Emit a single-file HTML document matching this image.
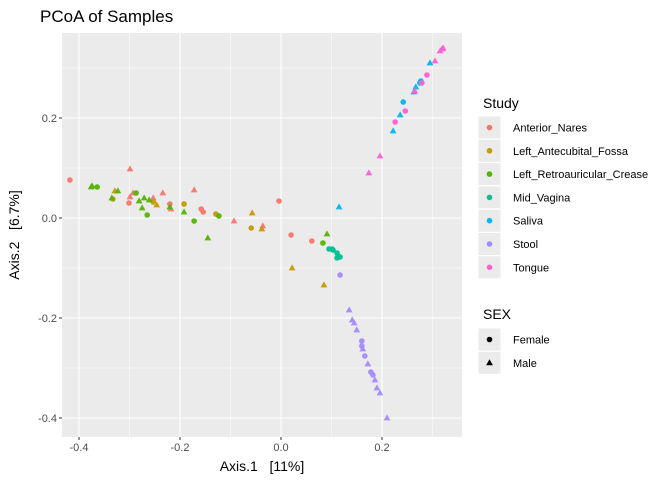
<!DOCTYPE html>
<html><head><meta charset="utf-8"><style>
body{margin:0;background:#fff;font-family:"Liberation Sans",sans-serif;}
</style></head><body>
<svg id="chart" width="672" height="480" xmlns="http://www.w3.org/2000/svg" font-family="Liberation Sans, sans-serif">
<text x="40" y="22" font-size="17" fill="#000">PCoA of Samples</text>
<rect x="62" y="33" width="400" height="404" fill="#EBEBEB"/>
<g id="grid"></g>
<g id="axes"></g>
<g id="points"></g>
<text x="262" y="471" font-size="14" text-anchor="middle" style="white-space:pre">Axis.1   [11%]</text>
<text transform="translate(19,235) rotate(-90)" font-size="14" text-anchor="middle" style="white-space:pre">Axis.2   [6.7%]</text>
<g id="legend"></g>
</svg>
<script>
const xTicks=[-0.4,-0.2,0.0,0.2];
const yTicks=[0.2,0.0,-0.2,-0.4];
const studies=["Anterior_Nares","Left_Antecubital_Fossa","Left_Retroauricular_Crease","Mid_Vagina","Saliva","Stool","Tongue"];
const colors=["#F8766D","#C49A00","#53B400","#00C094","#00B6EB","#A58AFF","#FB61D7"];
const sexes=["Female","Male"];
const groupIdx=[0,0,0,0,0,0,0,0,0,0,0,0,0,0,0,0,0, 1,1,1,1,1,1,1,1,1,1,1, 2,2,2,2,2,2,2,2,2,2,2,2,2,2,2,2,2,2, 3,3,3,3,3,3,3, 4,4,4,4,4,4,4,4,4, 5,5,5,5,5,5,5,5,5,5,5,5,5,5,5,5, 6,6,6,6,6,6,6,6,6,6,6];
const sexIdx=[0,1,1,1,0,1,1,0,1,1,0,0,1,1,0,0,0, 1,0,0,1,0,0,1,0,1,1,1, 1,1,0,1,1,0,1,1,1,0,1,1,1,0,0,1,1,0, 0,0,0,0,0,0,0, 1,1,0,0,1,1,0,1,1, 0,1,1,1,1,0,0,1,0,1,0,0,1,1,1,1, 1,1,1,1,0,0,1,0,0,1,1];
const xVals=[-0.418,-0.299,-0.299,-0.293,-0.301,-0.253,-0.234,-0.220,-0.218,-0.172,-0.158,-0.154,-0.093,-0.036,-0.004,0.020,0.061,
 -0.329,-0.333,-0.253,-0.246,-0.192,-0.129,-0.057,-0.059,-0.038,0.022,0.085,
 -0.374,-0.376,-0.364,-0.323,-0.335,-0.287,-0.271,-0.281,-0.275,-0.265,-0.261,-0.220,-0.192,-0.172,-0.123,-0.145,0.091,0.083,
 0.095,0.103,0.111,0.113,0.117,0.111,0.101,
 0.115,0.295,0.277,0.275,0.267,0.263,0.242,0.236,0.222,
 0.117,0.135,0.141,0.145,0.150,0.160,0.160,0.162,0.166,0.172,0.178,0.182,0.186,0.190,0.196,0.210,
 0.319,0.315,0.321,0.305,0.289,0.279,0.265,0.246,0.226,0.196,0.174];
const yVals=[0.076,0.098,0.042,0.050,0.030,0.040,0.050,0.028,0.018,0.056,0.018,0.012,-0.006,-0.016,0.034,-0.034,-0.046,
 0.054,0.038,0.032,0.026,0.028,0.008,0.010,-0.020,-0.022,-0.100,-0.134,
 0.064,0.062,0.062,0.054,0.040,0.050,0.040,0.034,0.020,0.006,0.036,0.022,0.012,-0.006,0.004,-0.040,-0.032,-0.050,
 -0.062,-0.064,-0.070,-0.076,-0.078,-0.080,-0.062,
 0.022,0.310,0.274,0.270,0.262,0.252,0.232,0.206,0.174,
 -0.114,-0.184,-0.204,-0.210,-0.224,-0.246,-0.256,-0.262,-0.276,-0.292,-0.308,-0.314,-0.324,-0.340,-0.350,-0.400,
 0.338,0.334,0.340,0.314,0.286,0.270,0.254,0.214,0.192,0.124,0.090];

const NS="http://www.w3.org/2000/svg";
const PL=62,PR=462,PT=33,PB=437;
function X(v){return 281+v*505;}
function Y(v){return 218-v*500;}
function mk(tag,attrs,parent){const e=document.createElementNS(NS,tag);for(const k in attrs)e.setAttribute(k,attrs[k]);parent.appendChild(e);return e;}
const grid=document.getElementById('grid'),axes=document.getElementById('axes'),pts=document.getElementById('points'),leg=document.getElementById('legend');
for(let i=0;i<xTicks.length+1;i++){const v=(i===0?xTicks[0]-0.1:xTicks[i-1]+0.1);const x=X(v);if(x>PL&&x<PR){const l=mk('line',{x1:x,x2:x,y1:PT,y2:PB,stroke:'#fff','stroke-width':0.5},grid);}}
for(let i=0;i<yTicks.length+1;i++){const v=(i===0?yTicks[0]+0.1:yTicks[i-1]-0.1);const y=Y(v);if(y>PT&&y<PB){const l=mk('line',{x1:PL,x2:PR,y1:y,y2:y,stroke:'#fff','stroke-width':0.5},grid);}}
xTicks.forEach(v=>{const x=X(v);
 const l=mk('line',{x1:x,x2:x,y1:PT,y2:PB,stroke:'#fff','stroke-width':1.1},grid);
 
 const t=mk('line',{x1:x,x2:x,y1:PB,y2:PB+3,stroke:'#333','stroke-width':1},axes);
 
 const tx=mk('text',{x:x,y:PB+14,'font-size':11,'text-anchor':'middle',fill:'#4D4D4D'},axes);tx.textContent=v.toFixed(1);
 });
yTicks.forEach(v=>{const y=Y(v);
 const l=mk('line',{x1:PL,x2:PR,y1:y,y2:y,stroke:'#fff','stroke-width':1.1},grid);
 
 const t=mk('line',{x1:PL-3,x2:PL,y1:y,y2:y,stroke:'#333','stroke-width':1},axes);
 
 const tx=mk('text',{x:PL-5,y:y+4,'font-size':11,'text-anchor':'end',fill:'#4D4D4D'},axes);tx.textContent=v.toFixed(1);
 });
function shape(parent,cx,cy,s,col){
 if(s===0){return mk('circle',{cx:cx,cy:cy,r:2.8,fill:col},parent);}
 return mk('path',{d:`M${cx},${cy-3.6}L${cx+3.4},${cy+2.4}L${cx-3.4},${cy+2.4}Z`,fill:col},parent);
}
for(let i=0;i<xVals.length;i++){
 const p=shape(pts,X(xVals[i]),Y(yVals[i]),sexIdx[i],colors[groupIdx[i]]);
 p.setAttribute('opacity','0.95');
 
 
}
const st=mk('text',{x:483,y:108,'font-size':14},leg);st.textContent='Study';

studies.forEach((s,i)=>{const y=116+i*23.3;
 const r=mk('rect',{x:478,y:y,width:23,height:23,fill:'#EBEBEB',stroke:'#fff'},leg);
 
 const c=mk('circle',{cx:489.5,cy:y+11.5,r:2.8,fill:colors[i]},leg);
 
 const t=mk('text',{x:513,y:y+15.5,'font-size':11},leg);t.textContent=s;
 });
const sx=mk('text',{x:483,y:319,'font-size':14},leg);sx.textContent='SEX';

sexes.forEach((s,i)=>{const y=328+i*23.3;
 const r=mk('rect',{x:478,y:y,width:23,height:23,fill:'#EBEBEB',stroke:'#fff'},leg);
 
 const c=shape(leg,489.5,y+11.5,i,'#000');
 
 const t=mk('text',{x:513,y:y+15.5,'font-size':11},leg);t.textContent=s;
 });
</script>
</body></html>
